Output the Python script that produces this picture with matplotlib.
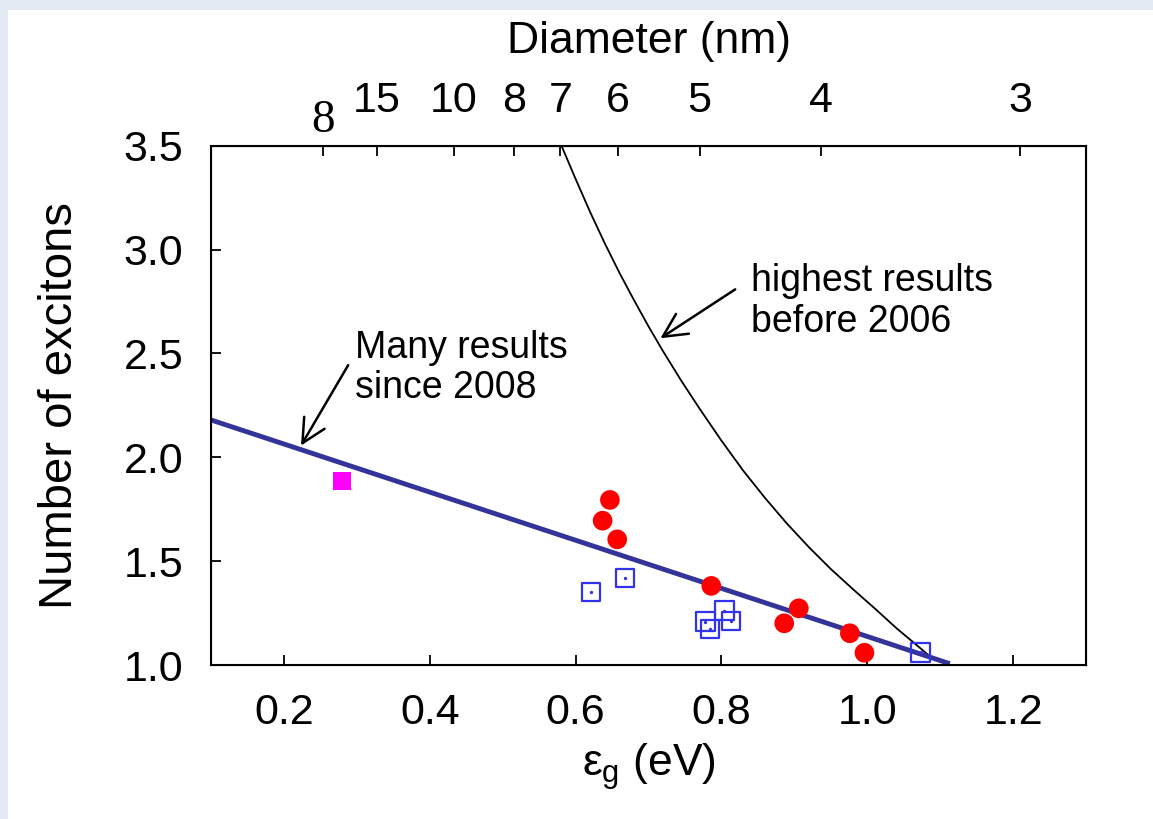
import numpy as np
import matplotlib
matplotlib.use("Agg")
import matplotlib.pyplot as plt
from matplotlib.patches import Rectangle
from matplotlib.ticker import FormatStrFormatter

plt.rcParams["font.family"] = ["Liberation Sans", "DejaVu Sans"]
plt.rcParams["mathtext.fontset"] = "custom"
plt.rcParams["mathtext.rm"] = "Liberation Sans"
plt.rcParams["mathtext.it"] = "Liberation Sans"

# measured data (band gap in eV, number of excitons)
red_eg = [0.647, 0.637, 0.657, 0.786, 0.906, 0.886, 0.976, 0.996]
red_n = [1.795, 1.695, 1.605, 1.381, 1.273, 1.201, 1.153, 1.059]
sq_eg = [0.621, 0.668, 0.778, 0.784, 0.804, 0.813, 1.073]
sq_n = [1.353, 1.418, 1.209, 1.173, 1.262, 1.212, 1.061]
bulk_eg = [0.280]
bulk_n = [1.886]

# "many results since 2008" trend line
fit_eg = [0.10, 1.11]
fit_n = [2.18, 1.01]

# "highest results before 2006" curve
old_eg = [0.581, 0.600, 0.620, 0.640, 0.660, 0.680, 0.700, 0.720, 0.745, 0.770, 0.800,
          0.830, 0.860, 0.890, 0.920, 0.950, 0.980, 1.010, 1.040, 1.070, 1.086]
old_n = [3.497, 3.340, 3.180, 3.030, 2.889, 2.757, 2.630, 2.510, 2.368, 2.234, 2.080,
         1.935, 1.803, 1.680, 1.567, 1.462, 1.366, 1.273, 1.177, 1.089, 1.041]

# top axis: nanocrystal diameter
diam_eg = [0.253, 0.327, 0.433, 0.515, 0.579, 0.658, 0.770, 0.937, 1.210]
diam_lbl = ["", "15", "10", "8", "7", "6", "5", "4", "3"]
bulk_mark = "8"

fig = plt.figure(figsize=(11.53, 8.19), dpi=100, facecolor="#e3e9f2")
fig.patches.append(Rectangle((8 / 1153, 0), 1, 1 - 10 / 819, transform=fig.transFigure,
                             facecolor="white", edgecolor="none", zorder=-1))
ax = fig.add_axes([0.183, 0.188, 0.759, 0.634])

ax.plot(old_eg, old_n, color="black", lw=1.3)
ax.plot(fit_eg, fit_n, color="#333399", lw=3.5)
ax.scatter(red_eg, red_n, s=200, color="red", edgecolors="none", zorder=3)
ax.scatter(sq_eg, sq_n, s=175, marker="s", facecolors="none", edgecolors="#3333ee",
           linewidths=1.6, zorder=3)
ax.scatter(sq_eg, sq_n, s=2, color="#3333ee", zorder=3)
ax.scatter(bulk_eg, bulk_n, s=165, marker="s", color="magenta", edgecolors="none", zorder=3)

ax.set_xlim(0.1, 1.3)
ax.set_ylim(1.0, 3.5)
ax.set_xticks([0.2, 0.4, 0.6, 0.8, 1.0, 1.2])
ax.set_yticks([1.0, 1.5, 2.0, 2.5, 3.0, 3.5])
ax.xaxis.set_major_formatter(FormatStrFormatter("%.1f"))
ax.yaxis.set_major_formatter(FormatStrFormatter("%.1f"))
ax.tick_params(direction="in", length=7, width=1.3, labelsize=31, pad=20)
ax.tick_params(axis="x", top=False)
ax.tick_params(axis="y", right=False)
for s in ax.spines.values():
    s.set_linewidth(1.5)
ax.set_xlabel(r"$\varepsilon_{\mathrm{g}}$ (eV)", fontsize=32, labelpad=6)
ax.set_ylabel("Number of excitons", fontsize=34, labelpad=30)

top = ax.twiny()
top.set_xlim(ax.get_xlim())
top.set_xticks(diam_eg)
top.set_xticklabels(diam_lbl)
top.tick_params(direction="in", length=7, width=1.3, labelsize=31, pad=18)
top.set_xlabel("Diameter (nm)", fontsize=32, labelpad=20)
ax.annotate(bulk_mark, xy=(diam_eg[0], 1.0), xycoords=("data", "axes fraction"),
            xytext=(0, 3), textcoords="offset points", ha="center", va="bottom",
            fontsize=34, fontfamily="Liberation Serif", annotation_clip=False)

arrow = dict(arrowstyle="->,head_length=0.5,head_width=0.25", color="black", lw=1.8,
             mutation_scale=34)
ax.annotate("", xy=(0.2215, 2.045), xytext=(0.290, 2.455), arrowprops=arrow)
ax.text(0.297, 2.43, "Many results\nsince 2008", fontsize=27, va="center", ha="left",
        linespacing=1.15)
ax.annotate("", xy=(0.713, 2.566), xytext=(0.822, 2.816), arrowprops=arrow)
ax.text(0.840, 2.75, "highest results\nbefore 2006", fontsize=27, va="center", ha="left",
        linespacing=1.15)

fig.savefig("out.png", dpi=100, facecolor=fig.get_facecolor())
